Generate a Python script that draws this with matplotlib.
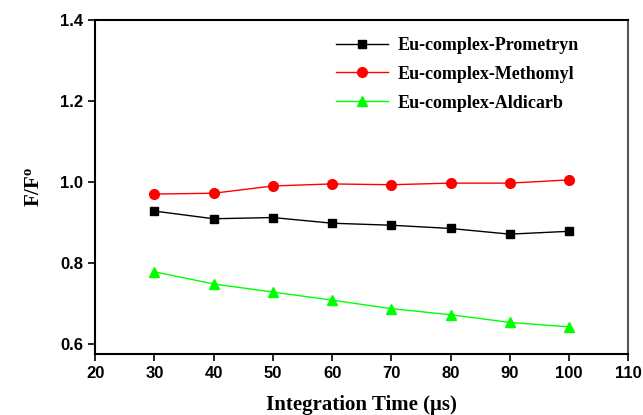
import matplotlib.pyplot as plt

plt.rcParams['mathtext.fontset'] = 'custom'
plt.rcParams['mathtext.rm'] = 'Liberation Serif:bold'
plt.rcParams['mathtext.bf'] = 'Liberation Serif:bold'

# Integration time (us) and F/F0 for each complex
time_us = [30, 40, 50, 60, 70, 80, 90, 100]
prometryn = [0.929, 0.910, 0.913, 0.899, 0.894, 0.886, 0.872, 0.879]
methomyl = [0.971, 0.973, 0.991, 0.996, 0.994, 0.998, 0.998, 1.006]
aldicarb = [0.779, 0.749, 0.729, 0.709, 0.688, 0.673, 0.654, 0.643]

labels = ['Eu-complex-Prometryn', 'Eu-complex-Methomyl', 'Eu-complex-Aldicarb']

fig = plt.figure(figsize=(6.43, 4.15), dpi=100)
ax = fig.add_axes([0.148, 0.146, 0.829, 0.805])

ax.plot(time_us, prometryn, '-s', color='black', lw=1, ms=6, label=labels[0])
ax.plot(time_us, methomyl, '-o', color='red', lw=1, ms=7, label=labels[1])
ax.plot(time_us, aldicarb, '-^', color='#00ff00', lw=1, ms=7, label=labels[2])

ax.set_xlim(20, 110)
ax.set_ylim(0.575, 1.4)
ax.set_xticks(range(20, 111, 10))
ax.set_yticks([0.6, 0.8, 1.0, 1.2, 1.4])
ax.tick_params(direction='out', length=5, width=1.2, top=False, right=False)
for lab in ax.get_xticklabels() + ax.get_yticklabels():
    lab.set_fontfamily('Liberation Sans')
    lab.set_fontweight('bold')
    lab.set_fontsize(12)
for sp in ax.spines.values():
    sp.set_linewidth(1.5)
ax.spines['right'].set_color('#555555')

ax.set_xlabel('Integration Time (\u03bcs)', family='Liberation Serif',
              fontweight='bold', fontsize=15, labelpad=10)
ax.set_ylabel('$\\mathrm{F/F^{o}}$', family='Liberation Serif',
              fontweight='bold', fontsize=15, labelpad=12)

# legend without frame, placed by its upper-left corner
leg = ax.legend(loc='upper left', bbox_to_anchor=(0.452, 0.95), frameon=False,
                borderaxespad=0, borderpad=0,
                prop={'family': 'Liberation Serif', 'weight': 'bold', 'size': 13},
                handlelength=2.9, handletextpad=0.5, labelspacing=0.65)

fig.savefig('out.png', dpi=100)
